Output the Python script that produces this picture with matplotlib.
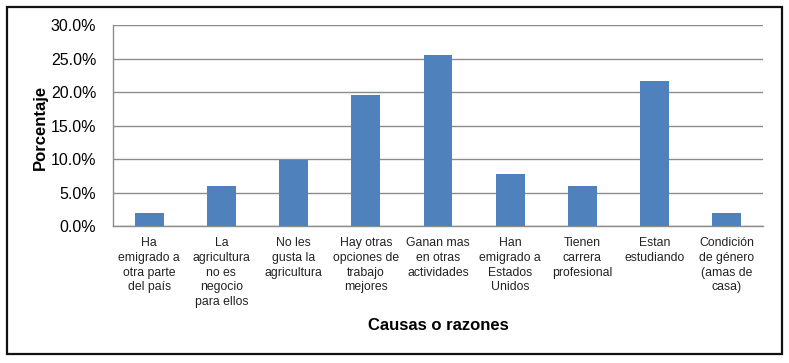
import matplotlib
matplotlib.use("Agg")
import matplotlib.pyplot as plt
from matplotlib.patches import Rectangle
from matplotlib.ticker import PercentFormatter

plt.rcParams['font.family'] = ['Liberation Sans', 'DejaVu Sans']

categorias = [
    "Ha\nemigrado a\notra parte\ndel país",
    "La\nagricultura\nno es\nnegocio\npara ellos",
    "No les\ngusta la\nagricultura",
    "Hay otras\nopciones de\ntrabajo\nmejores",
    "Ganan mas\nen otras\nactividades",
    "Han\nemigrado a\nEstados\nUnidos",
    "Tienen\ncarrera\nprofesional",
    "Estan\nestudiando",
    "Condición\nde género\n(amas de\ncasa)",
]
porcentajes = [2.0, 5.9, 9.8, 19.6, 25.5, 7.8, 5.9, 21.6, 2.0]
y_ticks = [0, 5, 10, 15, 20, 25, 30]

fig = plt.figure(figsize=(7.89, 3.63), dpi=100)
ax = fig.add_axes([0.1432, 0.3774, 0.8238, 0.5536])

x = list(range(len(categorias)))
ax.bar(x, porcentajes, width=0.4, color="#4F81BD", zorder=3)

ax.set_xlim(-0.5, len(categorias) - 0.5)
ax.set_ylim(0, 30)
ax.set_yticks(y_ticks)
ax.yaxis.set_major_formatter(PercentFormatter(decimals=1))
ax.grid(axis="y", color="#8C8C8C", linewidth=1.0, zorder=0)

ax.set_xticks(x)
ax.set_xticklabels(categorias, fontsize=8.8, linespacing=1.3, va="top",
                   color="#222222")
ax.tick_params(axis="x", length=0, pad=8)
ax.tick_params(axis="y", length=0, pad=12, labelsize=11.5)

for side in ["top", "right"]:
    ax.spines[side].set_visible(False)
for side in ["left", "bottom"]:
    ax.spines[side].set_color("#8C8C8C")
    ax.spines[side].set_linewidth(1.0)

fig.text(40 / 789, 0.65, "Porcentaje", fontsize=12, fontweight="bold",
         rotation=90, ha="center", va="center")
fig.text(0.555, 0.102, "Causas o razones", fontsize=12, fontweight="bold",
         ha="center", va="center")

# marco exterior del gráfico
fig.patches.append(Rectangle((7 / 789, 9 / 363), 775 / 789, 347 / 363,
                             transform=fig.transFigure, fill=False,
                             edgecolor="#111111", linewidth=1.6))

fig.savefig("out.png", dpi=100)
